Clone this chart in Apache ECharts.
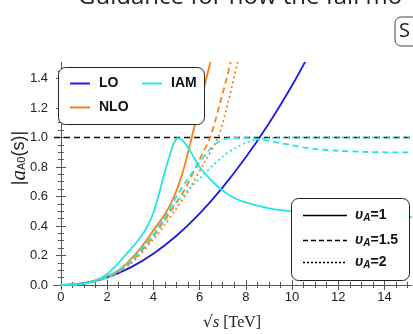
<!DOCTYPE html>
<html>
<head>
<meta charset="utf-8">
<script src="https://cdn.jsdelivr.net/npm/echarts@6/dist/echarts.min.js"></script>
<style>
  html, body { margin: 0; padding: 0; background: #fff; }
  #chart { width: 413px; height: 334px; }
</style>
</head>
<body>
<div id="chart"></div>
<script>
// data, [sqrt(s) in TeV, |a_A0(s)|]
const loData = [[0, 0], [1, 0.013], [2, 0.052], [3, 0.118], [4, 0.212], [5, 0.334], [6, 0.484],
    [7, 0.662], [8, 0.866], [9, 1.095], [10, 1.352], [10.8, 1.58]];

const nloSolid = [[0, 0], [1, 0.01], [2, 0.06], [2.5, 0.1], [3, 0.17], [3.5, 0.26], [4, 0.37],
    [4.5, 0.48], [4.9, 0.6], [5.3, 0.78], [5.66, 1.0], [6.05, 1.25], [6.45, 1.5], [6.6, 1.6]];
const nloDashed = [[0, 0], [1, 0.01], [2, 0.05], [3, 0.15], [4, 0.33], [4.5, 0.44], [5, 0.56],
    [5.4, 0.66], [5.9, 0.82], [6.45, 1.0], [6.9, 1.24], [7.33, 1.5], [7.45, 1.6]];
const nloDotted = [[0, 0], [1, 0.01], [2, 0.05], [3, 0.14], [4, 0.31], [4.5, 0.41], [5, 0.52],
    [5.6, 0.66], [6.2, 0.83], [6.8, 1.0], [7.25, 1.25], [7.63, 1.5], [7.75, 1.6]];

const iamSolid = [[0, 0], [1, 0.01], [1.5, 0.03], [2, 0.075], [2.5, 0.15], [2.75, 0.195],
    [3, 0.24], [3.25, 0.285], [3.5, 0.335], [3.75, 0.4], [4, 0.49], [4.25, 0.62], [4.5, 0.77],
    [4.75, 0.9], [4.9, 0.965], [5.05, 0.995], [5.2, 0.99], [5.4, 0.955], [5.7, 0.88],
    [6, 0.8], [6.5, 0.71], [7, 0.64], [7.5, 0.59], [8, 0.56], [9, 0.52], [10, 0.5],
    [11, 0.485], [12, 0.475], [13, 0.468], [14, 0.464], [15.2, 0.46]];
const iamDashed = [[0, 0], [1, 0.01], [2, 0.055], [3, 0.16], [3.5, 0.25], [4, 0.34], [4.5, 0.46],
    [5, 0.6], [5.5, 0.72], [6, 0.83], [6.5, 0.93], [7, 0.985], [7.5, 0.997], [8, 0.997],
    [8.5, 0.99], [9, 0.977], [9.5, 0.962], [10, 0.947], [10.5, 0.933], [11, 0.922],
    [12, 0.91], [13, 0.903], [14, 0.9], [15.2, 0.899]];
const iamDotted = [[0, 0], [1, 0.01], [2, 0.05], [3, 0.15], [4, 0.34], [4.5, 0.46], [5, 0.56],
    [5.6, 0.66], [6, 0.72], [6.5, 0.8], [7, 0.87], [7.5, 0.925], [8, 0.963], [8.5, 0.986],
    [9, 0.996], [10, 1.0], [12, 1.0], [15.2, 1.0]];

const unitarityLine = [[-0.3, 1], [15.2, 1]];

const xMajorTicks = [0, 2, 4, 6, 8, 10, 12, 14];
const yMajorTicks = [0, 0.2, 0.4, 0.6, 0.8, 1.0, 1.2, 1.4];
const xMinorTicks = [];
for (let v = 0; v <= 15; v += 0.5) xMinorTicks.push(v);
const yMinorTicks = [];
for (let v = 0; v <= 1.5; v += 0.05) yMinorTicks.push(+v.toFixed(2));

const BLUE = '#1a1ae6';
const ORANGE = '#ff7f0e';
const CYAN = '#22e6e6';
const FRAME = '#555';

function xAxisDef(position, ticks, len, labels) {
    return {
        type: 'value', position: position, min: -0.3, max: 15.15,
        axisLine: { show: true, lineStyle: { color: FRAME, width: 1 } },
        axisTick: { show: true, inside: true, length: len, customValues: ticks, lineStyle: { color: FRAME } },
        axisLabel: labels ? { show: true, customValues: xMajorTicks, margin: 6, color: '#222',
            fontSize: 13, fontFamily: 'Liberation Sans' } : { show: false },
        splitLine: { show: false }
    };
}

function yAxisDef(position, ticks, len, labels) {
    return {
        type: 'value', position: position, min: 0, max: 1.505,
        axisLine: { show: true, lineStyle: { color: FRAME, width: 1 } },
        axisTick: { show: true, inside: true, length: len, customValues: ticks, lineStyle: { color: FRAME } },
        axisLabel: labels ? { show: true, customValues: yMajorTicks, margin: 6, color: '#222',
            fontSize: 13, fontFamily: 'Liberation Sans', formatter: v => v.toFixed(1) } : { show: false },
        splitLine: { show: false }
    };
}

function curve(data, color, type) {
    return {
        type: 'line', data: data, smooth: 0.3, symbol: 'none', clip: true,
        lineStyle: { color: color, width: 1.8, type: type },
        z: 3
    };
}

const chart = echarts.init(document.getElementById('chart'), null, { renderer: 'canvas' });

const legendText = { fontFamily: 'Liberation Sans', fontWeight: 'bold', fontSize: 14, fill: '#111' };
const uRich = {
    u: { fontFamily: 'Liberation Sans', fontWeight: 'bold', fontStyle: 'italic', fontSize: 14, fill: '#111' },
    sub: { fontFamily: 'Liberation Sans', fontWeight: 'bold', fontStyle: 'italic', fontSize: 10, fill: '#111', padding: [6, 0, 0, 0] },
    n: { fontFamily: 'Liberation Sans', fontWeight: 'bold', fontSize: 14, fill: '#111' }
};

const option = {
    animation: false,
    grid: { left: 54, right: 2, top: 63, bottom: 49 },
    xAxis: [
        xAxisDef('bottom', xMajorTicks, 5, true),
        xAxisDef('top', xMajorTicks, 5, false),
        xAxisDef('top', xMinorTicks, 3, false),     // flips to bottom
        xAxisDef('bottom', xMinorTicks, 3, false)   // flips to top
    ],
    yAxis: [
        yAxisDef('left', yMajorTicks, 5, true),
        yAxisDef('right', yMajorTicks, 5, false),
        yAxisDef('right', yMinorTicks, 3, false),   // flips to left
        yAxisDef('left', yMinorTicks, 3, false)     // flips to right
    ],
    series: [
        {
            type: 'line', data: unitarityLine, symbol: 'none', z: 2,
            lineStyle: { color: '#111', width: 1.6, type: [6, 4] }
        },
        curve(loData, BLUE, 'solid'),
        curve(nloSolid, ORANGE, 'solid'),
        curve(nloDashed, ORANGE, [6, 4]),
        curve(nloDotted, ORANGE, [2, 3]),
        curve(iamSolid, CYAN, 'solid'),
        curve(iamDashed, CYAN, [6, 4]),
        curve(iamDotted, CYAN, [2, 3])
    ],
    graphic: [
        // cut-off page heading and button above the figure
        { type: 'text', left: 78, top: -15, z: 100,
          style: { text: 'Guidance for how the fall mo', fontFamily: 'Open Sans', fontSize: 24, fill: '#222' } },
        { type: 'rect', shape: { x: 395, y: 17, width: 30, height: 29, r: 6 }, z: 100,
          style: { fill: '#fff', stroke: '#444', lineWidth: 1 } },
        { type: 'text', left: 399, top: 21, z: 101,
          style: { text: 'S', fontFamily: 'Open Sans', fontSize: 20, fill: '#222' } },

        // colour legend
        { type: 'rect', shape: { x: 58.5, y: 67.5, width: 146, height: 57, r: 7 }, z: 100,
          style: { fill: '#fff', stroke: '#222', lineWidth: 1 } },
        { type: 'line', shape: { x1: 70, y1: 83.5, x2: 90, y2: 83.5 }, z: 101, style: { stroke: BLUE, lineWidth: 2 } },
        { type: 'text', x: 99, y: 83.5, z: 101, style: Object.assign({ text: 'LO', verticalAlign: 'middle' }, legendText) },
        { type: 'line', shape: { x1: 142, y1: 83.5, x2: 162, y2: 83.5 }, z: 101, style: { stroke: CYAN, lineWidth: 2 } },
        { type: 'text', x: 171, y: 83.5, z: 101, style: Object.assign({ text: 'IAM', verticalAlign: 'middle' }, legendText) },
        { type: 'line', shape: { x1: 70, y1: 107.5, x2: 90, y2: 107.5 }, z: 101, style: { stroke: ORANGE, lineWidth: 2 } },
        { type: 'text', x: 99, y: 107.5, z: 101, style: Object.assign({ text: 'NLO', verticalAlign: 'middle' }, legendText) },

        // line-style legend
        { type: 'rect', shape: { x: 291.5, y: 198.5, width: 118, height: 82, r: 7 }, z: 100,
          style: { fill: '#fff', stroke: '#222', lineWidth: 1 } },
        { type: 'line', shape: { x1: 303, y1: 215.5, x2: 347, y2: 215.5 }, z: 101, style: { stroke: '#000', lineWidth: 1.5 } },
        { type: 'line', shape: { x1: 303, y1: 240.5, x2: 347, y2: 240.5 }, z: 101, style: { stroke: '#000', lineWidth: 1.5, lineDash: [5, 3] } },
        { type: 'line', shape: { x1: 303, y1: 262.5, x2: 347, y2: 262.5 }, z: 101, style: { stroke: '#000', lineWidth: 1.5, lineDash: [2, 2] } },
        { type: 'text', x: 355, y: 215.5, z: 101,
          style: { text: '{u|υ}{sub|A}{n|=1}', rich: uRich, verticalAlign: 'middle' } },
        { type: 'text', x: 355, y: 240.5, z: 101,
          style: { text: '{u|υ}{sub|A}{n|=1.5}', rich: uRich, verticalAlign: 'middle' } },
        { type: 'text', x: 355, y: 262.5, z: 101,
          style: { text: '{u|υ}{sub|A}{n|=2}', rich: uRich, verticalAlign: 'middle' } },

        // axis titles
        { type: 'text', x: 19, y: 158, rotation: Math.PI / 2, z: 100,
          style: {
              text: '{t||}{a|a}{s|A0}{t|(s)|}', align: 'center', verticalAlign: 'middle',
              rich: {
                  t: { fontFamily: 'Liberation Sans', fontSize: 18, fill: '#222' },
                  a: { fontFamily: 'Liberation Serif', fontStyle: 'italic', fontSize: 21, fill: '#222' },
                  s: { fontFamily: 'Liberation Sans', fontSize: 11, fill: '#222', padding: [6, 0, 0, 0] }
              }
          } },
        { type: 'text', x: 232, y: 323, z: 100,
          style: {
              text: '{r|√}{s|s}{t| [TeV]}', align: 'center', verticalAlign: 'middle',
              rich: {
                  r: { fontFamily: 'DejaVu Serif', fontSize: 16, fill: '#222' },
                  s: { fontFamily: 'Liberation Serif', fontStyle: 'italic', fontSize: 16, fill: '#222' },
                  t: { fontFamily: 'Liberation Serif', fontSize: 16, fill: '#222' }
              }
          } }
    ]
};
chart.setOption(option);
</script>
</body>
</html>
